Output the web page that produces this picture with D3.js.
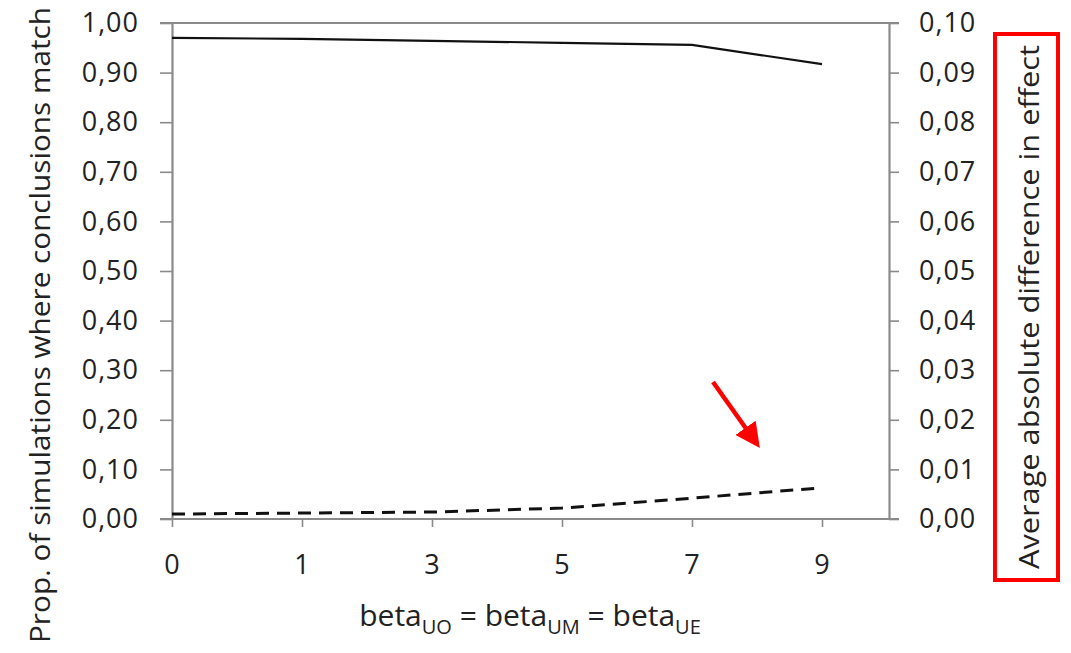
<!DOCTYPE html>
<html>
<head>
<meta charset="utf-8">
<script src="https://cdn.jsdelivr.net/npm/d3@7"></script>
<style>
  body { margin: 0; background: #fff; }
  svg text { font-family: "Open Sans", "Noto Sans", sans-serif; fill: #222; }
</style>
</head>
<body>
<div id="chart"></div>
<script>
const betaCats = ["0", "1", "3", "5", "7", "9"];
const propMatch = [0.970, 0.968, 0.964, 0.960, 0.956, 0.917];
const avgAbsDiff = [0.0010, 0.0012, 0.0014, 0.0022, 0.0042, 0.0063];
const leftTicks = [0, 0.1, 0.2, 0.3, 0.4, 0.5, 0.6, 0.7, 0.8, 0.9, 1.0];
const rightTicks = [0, 0.01, 0.02, 0.03, 0.04, 0.05, 0.06, 0.07, 0.08, 0.09, 0.10];

const margin = {top: 23, right: 182, bottom: 134, left: 172},
    width = 1071 - margin.left - margin.right,
    height = 653 - margin.top - margin.bottom;

const svgRoot = d3.select("#chart")
  .append("svg")
    .attr("width", 1071)
    .attr("height", 653);

const svg = svgRoot.append("g")
    .attr("transform", `translate(${margin.left}, ${margin.top})`);

const axisColor = "#8a8a8a";
const comma = d => d3.format(".2f")(d).replace(".", ",");

const x = d3.scalePoint()
  .domain(betaCats)
  .range([0, width - 67]);

const yL = d3.scaleLinear().domain([0, 1]).range([height, 0]);
const yR = d3.scaleLinear().domain([0, 0.1]).range([height, 0]);

// frame lines top and bottom
[0, height].forEach(function(yy) {
  svg.append("line")
    .attr("x1", -12).attr("x2", width + 10)
    .attr("y1", yy).attr("y2", yy)
    .attr("stroke", axisColor)
    .attr("stroke-width", 2.2);
});

const styleAxis = function(g) {
  g.select(".domain").attr("stroke", axisColor).attr("stroke-width", 2.2);
  g.selectAll(".tick line").attr("stroke", axisColor).attr("stroke-width", 1.6);
  g.selectAll(".tick text")
    .attr("font-size", 27)
    .attr("letter-spacing", 1)
    .attr("fill", "#222");
};

svg.append("g")
  .call(d3.axisLeft(yL).tickValues(leftTicks).tickFormat(comma).tickSize(12).tickSizeOuter(0).tickPadding(21))
  .call(styleAxis);

svg.append("g")
  .attr("transform", `translate(${width}, 0)`)
  .call(d3.axisRight(yR).tickValues(rightTicks).tickFormat(comma).tickSize(10).tickSizeOuter(0).tickPadding(20))
  .call(styleAxis);

svg.append("g")
  .attr("transform", `translate(0, ${height})`)
  .call(d3.axisBottom(x).tickSize(8).tickSizeOuter(0).tickPadding(28))
  .call(styleAxis)
  .call(g => g.select(".domain").remove());

// series
const solidData = betaCats.map((c, i) => ({cat: c, v: propMatch[i]}));
const dashData = betaCats.map((c, i) => ({cat: c, v: avgAbsDiff[i]}));

svg.append("path")
  .datum(solidData)
  .attr("fill", "none")
  .attr("stroke", "#111")
  .attr("stroke-width", 2.2)
  .attr("d", d3.line().x(d => x(d.cat)).y(d => yL(d.v)));

svg.append("path")
  .datum(dashData)
  .attr("fill", "none")
  .attr("stroke", "#111")
  .attr("stroke-width", 3)
  .attr("stroke-dasharray", "13,8")
  .attr("d", d3.line().x(d => x(d.cat)).y(d => yR(d.v)));

// axis titles
svgRoot.append("text")
  .attr("transform", "translate(50, 325) rotate(-90)")
  .attr("text-anchor", "middle")
  .attr("font-size", 27)
  .attr("textLength", 636)
  .attr("lengthAdjust", "spacingAndGlyphs")
  .text("Prop. of simulations where conclusions match");

const xt = svgRoot.append("text")
  .attr("x", 530)
  .attr("y", 626)
  .attr("text-anchor", "middle")
  .attr("font-size", 30);
xt.append("tspan").text("beta");
xt.append("tspan").attr("font-size", 20).attr("dy", 8).text("UO");
xt.append("tspan").attr("dy", -8).text(" = beta");
xt.append("tspan").attr("font-size", 20).attr("dy", 8).text("UM");
xt.append("tspan").attr("dy", -8).text(" = beta");
xt.append("tspan").attr("font-size", 20).attr("dy", 8).text("UE");

svgRoot.append("rect")
  .attr("x", 995).attr("y", 34)
  .attr("width", 63).attr("height", 546)
  .attr("fill", "none")
  .attr("stroke", "#ff0000")
  .attr("stroke-width", 4);

svgRoot.append("text")
  .attr("transform", "translate(1039, 307) rotate(-90)")
  .attr("text-anchor", "middle")
  .attr("font-size", 27)
  .attr("textLength", 524)
  .attr("lengthAdjust", "spacingAndGlyphs")
  .text("Average absolute difference in effect");

// red arrow
const defs = svgRoot.append("defs");
defs.append("marker")
  .attr("id", "arrowHead")
  .attr("viewBox", "0 0 10 10")
  .attr("refX", 8).attr("refY", 5)
  .attr("markerWidth", 5.5).attr("markerHeight", 5.5)
  .attr("orient", "auto")
  .append("path")
    .attr("d", "M0,0 L10,5 L0,10 z")
    .attr("fill", "#ff0000");

svgRoot.append("line")
  .attr("x1", 713).attr("y1", 382)
  .attr("x2", 757).attr("y2", 444)
  .attr("stroke", "#ff0000")
  .attr("stroke-width", 4.5)
  .attr("marker-end", "url(#arrowHead)");
</script>
</body>
</html>
